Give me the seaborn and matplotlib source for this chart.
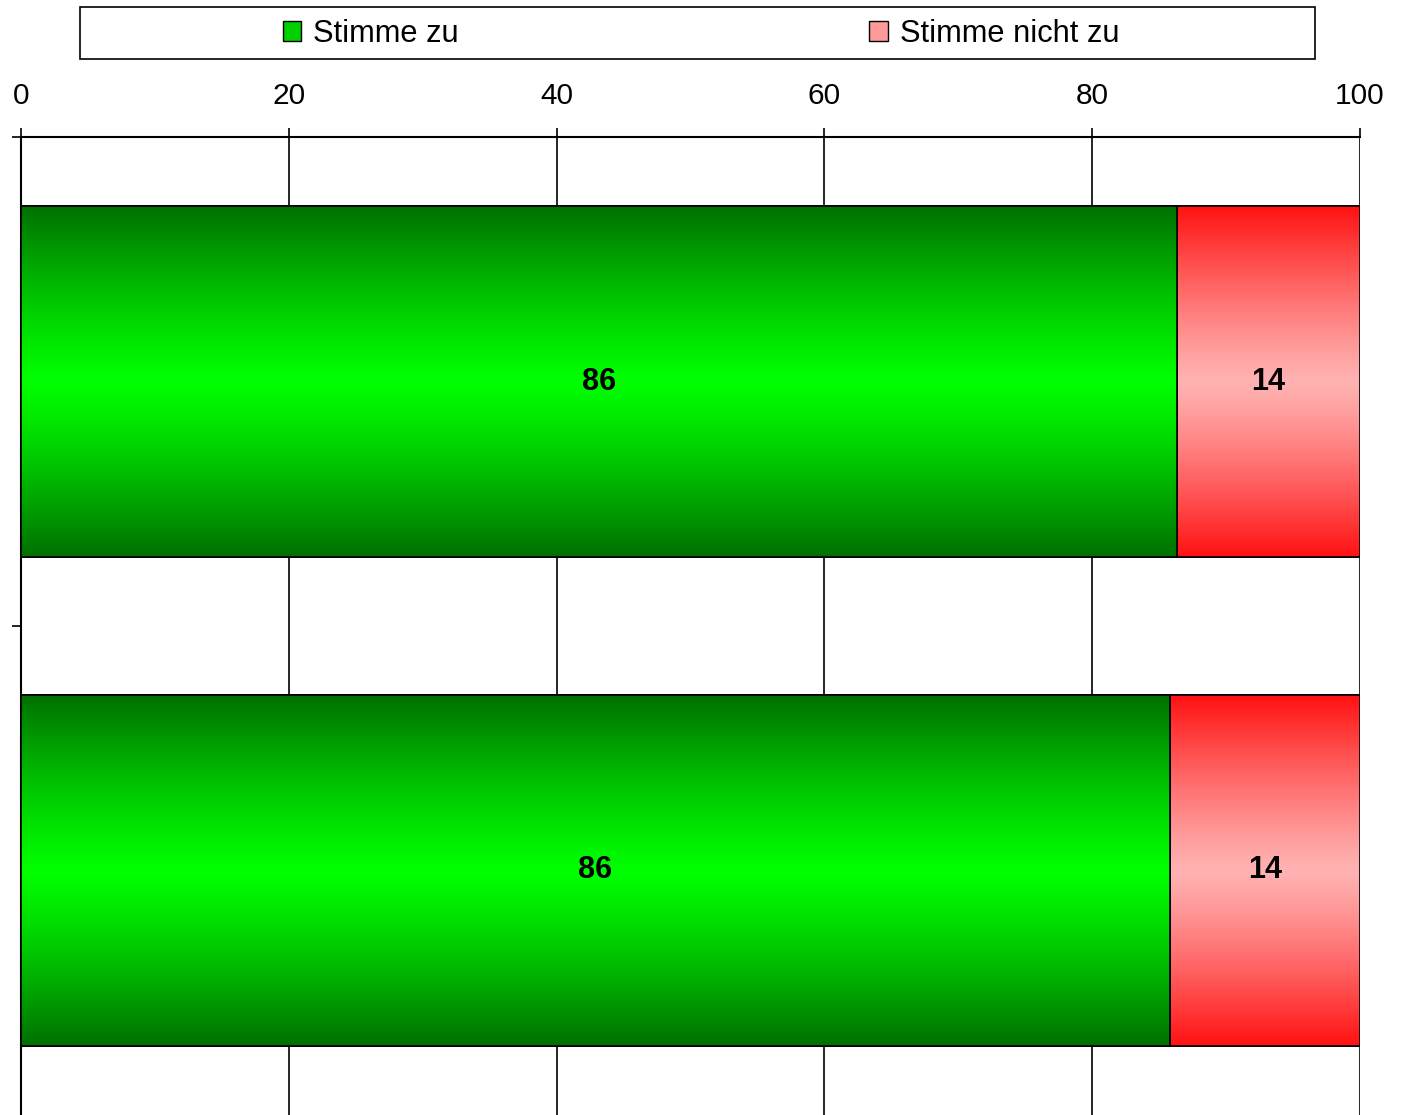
import numpy as np
import pandas as pd
import matplotlib
matplotlib.use("Agg")
import matplotlib.pyplot as plt
from matplotlib.patches import Patch, Rectangle
import seaborn as sns

# Data
categories = ["Gruppe 1", "Gruppe 2"]
agree = [86.3, 85.8]
disagree = [13.7, 14.2]
agree_labels = ["86", "86"]
disagree_labels = ["14", "14"]
series_names = ["Stimme zu", "Stimme nicht zu"]

df = pd.DataFrame({"cat": categories, "agree": agree, "disagree": disagree})
df["total"] = df["agree"] + df["disagree"]

sns.set_theme(style="white")
plt.rcParams["font.family"] = ["Liberation Sans", "DejaVu Sans"]
plt.rcParams["text.color"] = "black"

fig = plt.figure(figsize=(14.06, 11.15), dpi=100)
W, H = 1406, 1115
ax = fig.add_axes([21 / W, 0, (1360 - 21) / W, 1 - 137 / H])

bar_w = 0.716
# stacked: full bar (red) underneath, green on top
sns.barplot(data=df, y="cat", x="total", orient="h", color="red", width=bar_w,
            edgecolor="black", linewidth=1.2, ax=ax, zorder=2)
n_red = len(ax.patches)
sns.barplot(data=df, y="cat", x="agree", orient="h", color="green", width=bar_w,
            edgecolor="black", linewidth=1.2, ax=ax, zorder=4)
red_patches = ax.patches[:n_red]
green_patches = ax.patches[n_red:]


def grad_colors(edge, mid, n=256):
    t = np.abs(np.linspace(-1, 1, n)) ** 1.2
    edge = np.array(edge) / 255
    mid = np.array(mid) / 255
    return (mid[None, :] * (1 - t[:, None]) + edge[None, :] * t[:, None])[:, None, :]


green_img = grad_colors((0, 112, 0), (0, 255, 0))
red_img = grad_colors((255, 18, 18), (255, 178, 178))

for patches, img, z in [(red_patches, red_img, 2.5), (green_patches, green_img, 4.5)]:
    for p in patches:
        x0, y0 = p.get_x(), p.get_y()
        w, h = p.get_width(), p.get_height()
        im = ax.imshow(img, extent=(x0, x0 + w, y0 + h, y0), aspect="auto",
                       zorder=z, interpolation="bilinear")
        im.set_clip_path(p)
        # re-draw the edge on top
        ax.add_patch(Rectangle((x0, y0), w, h, fill=False, edgecolor="black",
                               linewidth=1.2, zorder=z + 0.1))

# value labels
for i in range(len(categories)):
    ax.text(agree[i] / 2, i, agree_labels[i], ha="center", va="center",
            fontsize=22, fontweight="bold", color="black", zorder=6)
    ax.text(agree[i] + disagree[i] / 2, i, disagree_labels[i], ha="center",
            va="center", fontsize=22, fontweight="bold", color="black", zorder=6)

ax.set_xlim(0, 100)
ax.set_ylim(1.5, -0.5)
ax.set_xticks([0, 20, 40, 60, 80, 100])
ax.set_yticks([-0.5, 0.5])
ax.set_yticklabels([])
ax.set_xlabel("")
ax.set_ylabel("")
ax.xaxis.tick_top()
ax.tick_params(axis="x", top=True, bottom=False, direction="out", length=6.5,
               width=1.2, color="black", labelsize=21.5, pad=13, labelcolor="black")
ax.tick_params(axis="y", left=True, direction="out", length=6.5, width=1.2,
               color="black")
ax.grid(axis="x", color="black", linewidth=1.2, zorder=1)
ax.set_axisbelow(True)
for s in ["top", "left"]:
    ax.spines[s].set_color("black")
    ax.spines[s].set_linewidth(1.5)
ax.spines["right"].set_visible(False)
ax.spines["bottom"].set_visible(False)

# legend frame + entries
fig.add_artist(Rectangle((80 / W, 1 - 59 / H), (1315 - 80) / W, 52 / H,
                         transform=fig.transFigure, fill=False,
                         edgecolor="black", linewidth=1.2))
handles = [Patch(facecolor="#00d000", edgecolor="black", linewidth=1.0),
           Patch(facecolor="#ff9a9a", edgecolor="black", linewidth=1.0)]
leg = fig.legend(handles, series_names, loc="center",
                 bbox_to_anchor=(701 / W, 1 - 34 / H), ncol=2, frameon=False,
                 fontsize=22.2, handlelength=0.6, handleheight=0.6,
                 handletextpad=0.4, columnspacing=13.3, borderpad=0)
for t in leg.get_texts():
    t.set_color("black")

fig.savefig("out.png", dpi=100)
